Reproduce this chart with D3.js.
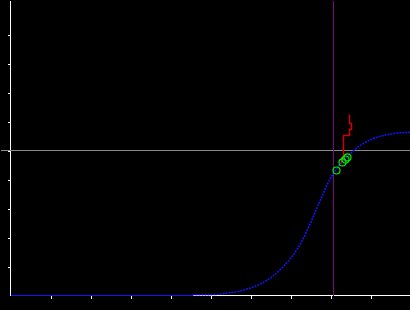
<!DOCTYPE html>
<html><head><meta charset="utf-8">
<script src="https://cdn.jsdelivr.net/npm/d3@7"></script>
<style>html,body{margin:0;padding:0;background:#000;overflow:hidden}</style>
</head><body>
<svg id="c" width="410" height="310"></svg>
<script>
// data
const baseX = [0, 4.55];
const baseY = [0, 0];
const curveX = [4.55, 5.0, 5.175, 5.25, 5.5, 5.75, 6.0, 6.25, 6.5, 6.75, 7.0, 7.25, 7.5, 7.625, 7.75, 8.0, 8.075, 8.25, 8.5, 8.75, 9.0, 9.25, 9.5, 9.75, 10.0];
const curveY = [0.003, 0.003, 0.004, 0.005, 0.010, 0.016, 0.026, 0.040, 0.061, 0.090, 0.128, 0.179, 0.250, 0.291, 0.330, 0.405, 0.421, 0.455, 0.490, 0.518, 0.537, 0.549, 0.557, 0.561, 0.563];
const stepX = [8.275, 8.275, 8.325, 8.325, 8.475, 8.475, 8.525, 8.525, 8.475, 8.475];
const stepY = [0.455, 0.476, 0.476, 0.552, 0.552, 0.572, 0.572, 0.593, 0.593, 0.624];
const markX = [8.15, 8.3, 8.375, 8.425];
const markY = [0.431, 0.459, 0.469, 0.476];
const xTicks = [1, 2, 3, 4, 5, 6, 7, 8, 9];
const yTicks = [0.1, 0.2, 0.3, 0.4, 0.5, 0.6, 0.7, 0.8, 0.9];
const refX = 8.075;
const refY = 0.5;

const svg = d3.select("#c");
svg.append("rect").attr("width", 410).attr("height", 310).attr("fill", "#000");
const x = d3.scaleLinear().domain([0, 10]).range([10, 410]);
const y = d3.scaleLinear().domain([0, 1]).range([295, 5]);
const g = svg.append("g").attr("transform", "translate(0.5,0.5)");

// axes lines
g.append("line").attr("x1", x(0)).attr("x2", x(0)).attr("y1", 0).attr("y2", y(0))
  .attr("stroke", "#fff").attr("shape-rendering", "crispEdges");
g.append("line").attr("x1", x(0)).attr("x2", 410).attr("y1", y(0)).attr("y2", y(0))
  .attr("stroke", "#fff").attr("shape-rendering", "crispEdges");

const ya = g.append("g").attr("transform", `translate(${x(0)},0)`)
  .call(d3.axisLeft(y).tickValues(yTicks).tickSize(3).tickSizeOuter(0).tickFormat(""));
ya.select(".domain").remove();
const xa = g.append("g").attr("transform", `translate(0,${y(0)})`)
  .call(d3.axisBottom(x).tickValues(xTicks).tickSize(3).tickSizeOuter(0).tickFormat(""));
xa.select(".domain").remove();
svg.selectAll(".tick line").attr("stroke", "#fff").attr("shape-rendering", "crispEdges");

// reference lines
g.append("line").attr("x1", 0).attr("x2", 410).attr("y1", y(refY)).attr("y2", y(refY))
  .attr("stroke", "#8a8a8a").attr("shape-rendering", "crispEdges");
g.append("line").attr("x1", x(refX)).attr("x2", x(refX)).attr("y1", 0).attr("y2", y(0))
  .attr("stroke", "#7a0a7a").attr("shape-rendering", "crispEdges");

// blue baseline (zero part of curve)
g.append("path").datum(baseX.map((v, i) => [v, baseY[i]]))
  .attr("d", d3.line().x(d => x(d[0])).y(d => y(d[1])))
  .attr("fill", "none").attr("stroke", "#1414ff").attr("stroke-width", 1)
  .attr("shape-rendering", "crispEdges");

// blue curve
const cpts = curveX.map((v, i) => [v, curveY[i]]);
g.append("path").datum(cpts)
  .attr("d", d3.line().x(d => x(d[0])).y(d => y(d[1])).curve(d3.curveMonotoneX))
  .attr("fill", "none").attr("stroke", "#1414ff").attr("stroke-width", 1.5)
  .attr("stroke-dasharray", "2,1");

// red step
const spts = stepX.map((v, i) => [v, stepY[i]]);
g.append("path").datum(spts)
  .attr("d", d3.line().x(d => x(d[0])).y(d => y(d[1])))
  .attr("fill", "none").attr("stroke", "#d00000").attr("stroke-width", 1.5);

// green markers
g.selectAll("circle.m").data(markX.map((v, i) => [v, markY[i]])).enter()
  .append("circle").attr("class", "m")
  .attr("cx", d => x(d[0])).attr("cy", d => y(d[1])).attr("r", 3.5)
  .attr("fill", "none").attr("stroke", "#00ee00").attr("stroke-width", 1.2);
</script>
</body></html>
